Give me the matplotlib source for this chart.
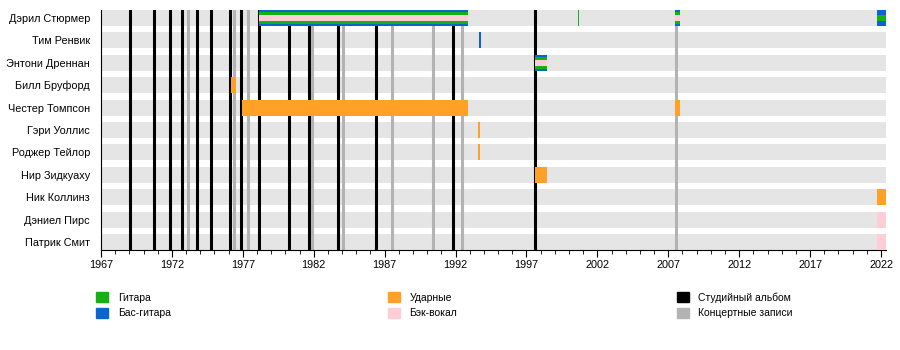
import matplotlib
matplotlib.use("Agg")
import matplotlib.pyplot as plt
import matplotlib.patches as mpatches

plt.rcParams['font.family'] = ['Liberation Sans', 'DejaVu Sans']

members = ['Дэрил Стюрмер', 'Тим Ренвик', 'Энтони Дреннан', 'Билл Бруфорд',
           'Честер Томпсон', 'Гэри Уоллис', 'Роджер Тейлор', 'Нир Зидкуаху',
           'Ник Коллинз', 'Дэниел Пирс', 'Патрик Смит']

# (member, start, end, roles) - first role is the widest layer
stints = [
    ('Дэрил Стюрмер', 1978.17, 1992.85, ['bass', 'guitar', 'vocals']),
    ('Дэрил Стюрмер', 2000.64, 2000.72, ['guitar']),
    ('Дэрил Стюрмер', 2007.45, 2007.80, ['bass', 'guitar', 'vocals']),
    ('Дэрил Стюрмер', 2021.75, 2022.35, ['bass', 'guitar']),
    ('Тим Ренвик', 1993.68, 1993.80, ['bass']),
    ('Энтони Дреннан', 1997.60, 1998.45, ['bass', 'guitar', 'vocals']),
    ('Билл Бруфорд', 1976.17, 1976.50, ['drums']),
    ('Честер Томпсон', 1976.95, 1992.85, ['drums']),
    ('Честер Томпсон', 2007.45, 2007.80, ['drums']),
    ('Гэри Уоллис', 1993.60, 1993.74, ['drums']),
    ('Роджер Тейлор', 1993.60, 1993.74, ['drums']),
    ('Нир Зидкуаху', 1997.60, 1998.45, ['drums']),
    ('Ник Коллинз', 2021.75, 2022.35, ['drums']),
    ('Дэниел Пирс', 2021.75, 2022.35, ['vocals']),
    ('Патрик Смит', 2021.75, 2022.35, ['vocals']),
]

studio_albums = [1969.06, 1970.77, 1971.83, 1972.70, 1973.76, 1974.79, 1976.08,
                 1976.90, 1978.17, 1980.24, 1981.69, 1983.73, 1986.38, 1991.79,
                 1997.59]
live_albums = [1973.10, 1976.41, 1977.39, 1981.86, 1984.09, 1987.49, 1990.42,
               1992.46, 2007.51]

year_start = 1967
year_end = 2022.35

colors = {'guitar': '#13b113', 'bass': '#0a66cc', 'drums': '#ffa126',
          'vocals': '#ffcdd5', 'studio': '#000000', 'live': '#b3b3b3'}
labels = {'guitar': 'Гитара', 'bass': 'Бас-гитара', 'drums': 'Ударные',
          'vocals': 'Бэк-вокал', 'studio': 'Студийный альбом',
          'live': 'Концертные записи'}
# layer heights (fraction of row) by number of roles in a stint
layer_heights = {1: [1.0], 2: [1.0, 0.36], 3: [1.0, 0.72, 0.36]}

fig = plt.figure(figsize=(9, 3.5), dpi=100)
ax = fig.add_axes([101/900, 1-250/350, (886-101)/900, 240/350])

h = 0.714
ypos = {m: i for i, m in enumerate(members)}

# background rows
ax.barh(range(len(members)), year_end - year_start, left=year_start,
        height=h, color='#e5e5e5', zorder=1)

# album lines
for x in studio_albums:
    ax.axvline(x, color=colors['studio'], lw=2.2, zorder=2)
for x in live_albums:
    ax.axvline(x, color=colors['live'], lw=2.2, zorder=2)

# member stints
for name, start, end, roles in stints:
    for r, frac in zip(roles, layer_heights[len(roles)]):
        ax.barh(ypos[name], end - start, left=start, height=h*frac,
                color=colors[r], zorder=3, lw=0)

ax.set_ylim(len(members) - 1 + h/2, -h/2)
ax.set_xlim(year_start, year_end)
ax.set_yticks(range(len(members)))
ax.set_yticklabels(members, fontsize=7.8)
ax.tick_params(axis='y', length=0, pad=8)
ax.set_xticks(range(1967, 2023, 5))
ax.set_xticks(range(1967, 2023), minor=True)
ax.tick_params(axis='x', which='major', length=5, labelsize=7.8, pad=2)
ax.tick_params(axis='x', which='minor', length=3)
ax.spines['top'].set_visible(False)
ax.spines['right'].set_visible(False)
ax.spines['left'].set_linewidth(0.8)
ax.spines['bottom'].set_linewidth(0.8)

# legend: three columns of two entries
legend_cols = [['guitar', 'bass'], ['drums', 'vocals'], ['studio', 'live']]
legend_x = [0.107, 0.431, 0.752]
for keys, lx in zip(legend_cols, legend_x):
    handles = [mpatches.Patch(color=colors[k], label=labels[k]) for k in keys]
    fig.legend(handles=handles, loc='upper left', bbox_to_anchor=(lx, 0.165),
               frameon=False, fontsize=7.5, handlelength=1.15,
               handleheight=1.05, handletextpad=0.9, labelspacing=0.5,
               borderpad=0, borderaxespad=0)

fig.savefig('out.png', dpi=100)
